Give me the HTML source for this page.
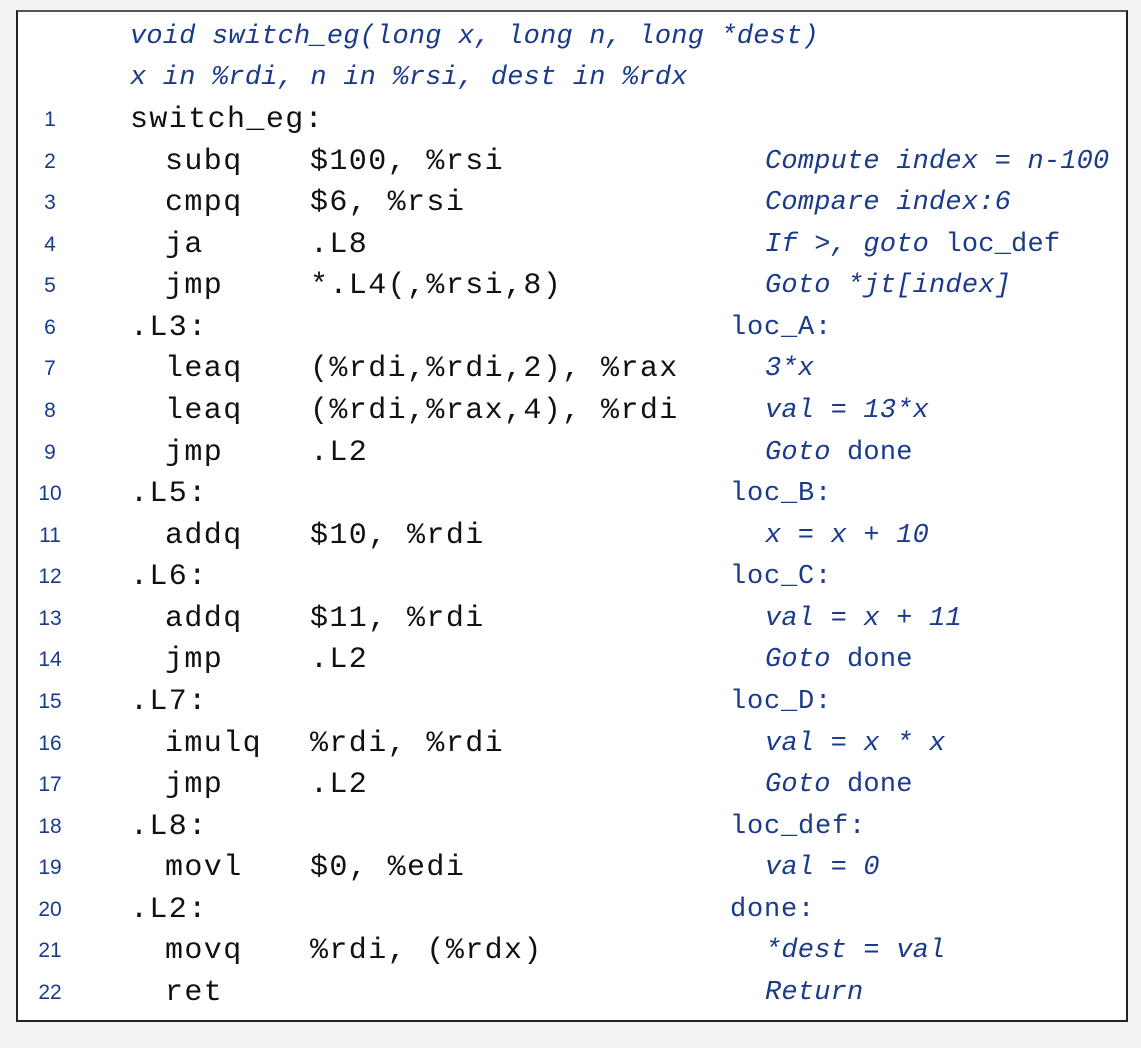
<!DOCTYPE html>
<html><head><meta charset="utf-8"><style>
body{margin:0;width:1141px;height:1048px;background:#f2f3f5;position:relative;overflow:hidden}
.box{position:absolute;left:16px;top:10px;width:1108px;height:1008px;background:#fff;border:2px solid #222;border-top-color:#555}
.t{position:absolute;height:40px;line-height:40px;white-space:pre;font-family:"Liberation Mono",monospace}
.n{font-family:"Liberation Sans",sans-serif;font-size:21px;color:#1a3a8a;width:40px;text-align:center;left:30px}
.c{font-size:30px;color:#111;letter-spacing:1.4px}
.i{font-size:27px;color:#1a3a8a;font-style:italic;letter-spacing:0.2px}
.b{font-size:27px;color:#1a3a8a;letter-spacing:0.8px}
</style></head><body>
<div class="box"></div>
<div class="t i" style="left:130px;top:17px">void switch_eg(long x, long n, long *dest)</div>
<div class="t i" style="left:130px;top:58px">x in %rdi, n in %rsi, dest in %rdx</div>
<div id="rows"></div>
<script>
var R=[
["switch_eg:","","","",""],
["  subq","$100, %rsi","","Compute index = n-100",1],
["  cmpq","$6, %rsi","","Compare index:6",1],
["  ja",".L8","","If >, goto loc_def",2],
["  jmp","*.L4(,%rsi,8)","","Goto *jt[index]",1],
[".L3:","","loc_A:","",0],
["  leaq","(%rdi,%rdi,2), %rax","","3*x",1],
["  leaq","(%rdi,%rax,4), %rdi","","val = 13*x",1],
["  jmp",".L2","","Goto done",3],
[".L5:","","loc_B:","",0],
["  addq","$10, %rdi","","x = x + 10",1],
[".L6:","","loc_C:","",0],
["  addq","$11, %rdi","","val = x + 11",1],
["  jmp",".L2","","Goto done",3],
[".L7:","","loc_D:","",0],
["  imulq","%rdi, %rdi","","val = x * x",1],
["  jmp",".L2","","Goto done",3],
[".L8:","","loc_def:","",0],
["  movl","$0, %edi","","val = 0",1],
[".L2:","","done:","",0],
["  movq","%rdi, (%rdx)","","*dest = val",1],
["  ret","","","Return",1]];
var h="";
R.forEach(function(r,k){
 var top=Math.round(120+k*41.57-20);
 h+='<div class="t n" style="top:'+top+'px">'+(k+1)+'</div>';
 var ins=r[0];
 if(ins.indexOf("  ")==0){h+='<div class="t c" style="left:165px;top:'+top+'px">'+ins.trim()+'</div>';}
 else h+='<div class="t c" style="left:130px;top:'+top+'px">'+ins+'</div>';
 if(r[1])h+='<div class="t c" style="left:310px;top:'+top+'px">'+r[1]+'</div>';
 if(r[2])h+='<div class="t b" style="left:730px;top:'+top+'px">'+r[2]+'</div>';
 if(r[3]){
  var s=r[3];
  if(r[4]==2)s='If &gt;, goto <span style="font-style:normal">loc_def</span>';
  if(r[4]==3)s='Goto <span style="font-style:normal">done</span>';
  h+='<div class="t i" style="left:765px;top:'+top+'px">'+s+'</div>';
 }
});
document.getElementById("rows").innerHTML=h;
</script>
</body></html>
